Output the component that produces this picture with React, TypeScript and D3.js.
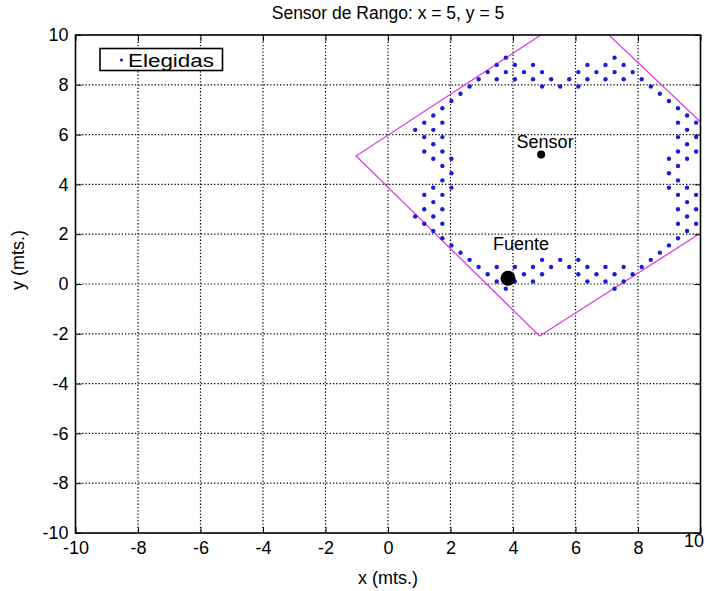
import React, { useEffect, useRef } from 'react';
import * as d3 from 'd3';

// ticks on both axes
const tickValues = [-10, -8, -6, -4, -2, 0, 2, 4, 6, 8, 10];

// "Elegidas" points, grouped by row (y) with the x values of each row
const rowY = [
  9.09, 8.8, 8.51, 8.22, 7.93, 7.64, 7.35, 7.06, 6.77, 6.48, 6.19, 5.9, 5.61, 5.32, 5.03, 4.74, 4.45,
  4.16, 3.87, 3.58, 3.29, 3.0, 2.71, 2.42, 2.13, 1.84, 1.55, 1.26, 0.97, 0.68, 0.39, 0.1, -0.19,
];
const rowX = [
  [3.77, 7.25],
  [3.48, 4.06, 4.64, 6.38, 6.96, 7.54],
  [3.19, 3.77, 4.35, 4.93, 6.09, 6.67, 7.25, 7.83],
  [2.9, 3.48, 4.06, 4.64, 5.22, 5.8, 6.38, 6.96, 7.54, 8.12],
  [2.61, 4.93, 5.51, 6.09, 8.41],
  [2.32, 8.7],
  [2.03, 8.99],
  [1.74, 9.28],
  [1.45, 9.57],
  [1.16, 1.74, 9.28, 9.86],
  [0.87, 1.45, 9.57],
  [1.16, 1.74, 9.28, 9.86],
  [1.45, 9.57],
  [1.16, 1.74, 9.28, 9.86],
  [1.45, 2.03, 8.99, 9.57],
  [1.74, 9.28],
  [2.03, 8.99],
  [1.74, 9.28],
  [1.45, 2.03, 8.99, 9.57],
  [1.16, 1.74, 9.28, 9.86],
  [1.45, 9.57],
  [1.16, 1.74, 9.28, 9.86],
  [0.87, 1.45, 9.57],
  [1.16, 1.74, 9.28, 9.86],
  [1.45, 9.57],
  [1.74, 9.28],
  [2.03, 8.99],
  [2.32, 8.7],
  [2.61, 4.93, 5.51, 6.09, 8.41],
  [2.9, 3.48, 4.06, 4.64, 5.22, 5.8, 6.38, 6.96, 7.54, 8.12],
  [3.19, 3.77, 4.35, 4.93, 6.09, 6.67, 7.25, 7.83],
  [3.48, 4.06, 4.64, 6.38, 6.96, 7.54],
  [3.77, 7.25],
];

// sensor range square (magenta)
const squareX = [-1.02, 4.85, 12.24, 6.18];
const squareY = [5.14, -2.09, 3.84, 11.06];

const sensorPos = [4.9, 5.2];
const fuentePos = [3.84, 0.23];

const font = "'Liberation Sans', Arial, sans-serif";

export default function App() {
  const svgRef = useRef(null);

  const width = 705;
  const height = 591;
  const plot = { left: 75.5, right: 700.5, top: 35, bottom: 533 };

  useEffect(() => {
    const svg = d3.select(svgRef.current);
    svg.selectAll('*').remove();

    const x = d3.scaleLinear().domain([-10, 10]).range([plot.left, plot.right]);
    const y = d3.scaleLinear().domain([-10, 10]).range([plot.bottom, plot.top]);

    svg.append('rect').attr('width', width).attr('height', height).attr('fill', '#fff');

    svg.append('clipPath').attr('id', 'plot-clip')
      .append('rect')
      .attr('x', plot.left).attr('y', plot.top)
      .attr('width', plot.right - plot.left).attr('height', plot.bottom - plot.top);

    // dotted grid
    const grid = svg.append('g')
      .attr('stroke', '#000')
      .attr('stroke-width', 1.2)
      .attr('stroke-dasharray', '1.3,2');
    grid.selectAll('line.v')
      .data(tickValues.slice(1, -1))
      .join('line')
      .attr('x1', d => x(d)).attr('x2', d => x(d))
      .attr('y1', plot.top).attr('y2', plot.bottom);
    grid.selectAll('line.h')
      .data(tickValues.slice(1, -1))
      .join('line')
      .attr('y1', d => y(d)).attr('y2', d => y(d))
      .attr('x1', plot.left).attr('x2', plot.right);

    // sensor range
    const square = squareX.map((v, i) => [v, squareY[i]]);
    svg.append('path')
      .attr('clip-path', 'url(#plot-clip)')
      .attr('d', d3.line().x(d => x(d[0])).y(d => y(d[1])).curve(d3.curveLinearClosed)(square))
      .attr('fill', 'none')
      .attr('stroke', '#e03ce8')
      .attr('stroke-width', 1.3);

    // chosen points
    const points = rowX.flatMap((xs, k) => xs.map(v => [v, rowY[k]]));
    svg.append('g')
      .attr('fill', '#1c1cd6')
      .selectAll('circle')
      .data(points)
      .join('circle')
      .attr('cx', d => x(d[0]))
      .attr('cy', d => y(d[1]))
      .attr('r', 2.2);

    // sensor + source
    svg.append('circle')
      .attr('cx', x(sensorPos[0])).attr('cy', y(sensorPos[1]))
      .attr('r', 4).attr('fill', '#000');
    svg.append('circle')
      .attr('cx', x(fuentePos[0])).attr('cy', y(fuentePos[1]))
      .attr('r', 7.5).attr('fill', '#000');

    svg.append('text')
      .attr('x', x(sensorPos[0]) + 4).attr('y', y(sensorPos[1]) - 7)
      .attr('text-anchor', 'middle')
      .style('font-family', font).style('font-size', '18px')
      .text('Sensor');
    svg.append('text')
      .attr('x', x(fuentePos[0]) + 13).attr('y', y(fuentePos[1]) - 28)
      .attr('text-anchor', 'middle')
      .style('font-family', font).style('font-size', '18px')
      .text('Fuente');

    // axes, ticks inside
    const styleAxis = g => {
      g.select('.domain').remove();
      g.selectAll('line').attr('stroke', '#000').attr('stroke-width', 1);
      g.selectAll('text').style('font-family', font).style('font-size', '18px').attr('fill', '#000');
    };
    const plain = d => String(d);
    svg.append('g')
      .attr('transform', `translate(0,${plot.bottom})`)
      .call(d3.axisBottom(x).tickValues(tickValues).tickSize(-6).tickPadding(8).tickFormat(plain))
      .call(styleAxis)
      .call(g => g.selectAll('text').filter(d => d === 10)
        .attr('text-anchor', 'end').attr('dx', 3).attr('dy', '0.35em'));
    svg.append('g')
      .attr('transform', `translate(0,${plot.top})`)
      .call(d3.axisTop(x).tickValues(tickValues).tickSize(-6).tickFormat(() => ''))
      .call(styleAxis);
    svg.append('g')
      .attr('transform', `translate(${plot.left},0)`)
      .call(d3.axisLeft(y).tickValues(tickValues).tickSize(-6).tickPadding(7).tickFormat(plain))
      .call(styleAxis);
    svg.append('g')
      .attr('transform', `translate(${plot.right},0)`)
      .call(d3.axisRight(y).tickValues(tickValues).tickSize(-6).tickFormat(() => ''))
      .call(styleAxis);

    svg.append('rect')
      .attr('x', plot.left).attr('y', plot.top)
      .attr('width', plot.right - plot.left).attr('height', plot.bottom - plot.top)
      .attr('fill', 'none').attr('stroke', '#000').attr('stroke-width', 1.6);

    // legend
    svg.append('rect')
      .attr('x', 100).attr('y', 48.5).attr('width', 122.5).attr('height', 22)
      .attr('fill', '#fff').attr('stroke', '#000').attr('stroke-width', 1.6);
    svg.append('circle').attr('cx', 121.5).attr('cy', 60).attr('r', 1.6).attr('fill', '#1c1cd6');
    svg.append('text')
      .attr('x', 128).attr('y', 66.5)
      .attr('textLength', 86).attr('lengthAdjust', 'spacingAndGlyphs')
      .style('font-family', font).style('font-size', '18px')
      .text('Elegidas');

    // titles
    svg.append('text')
      .attr('x', (plot.left + plot.right) / 2).attr('y', 19)
      .attr('text-anchor', 'middle')
      .style('font-family', font).style('font-size', '17.5px')
      .text('Sensor de Rango: x = 5, y = 5');
    svg.append('text')
      .attr('x', (plot.left + plot.right) / 2).attr('y', 584)
      .attr('text-anchor', 'middle')
      .style('font-family', font).style('font-size', '18px')
      .text('x (mts.)');
    svg.append('text')
      .attr('transform', 'translate(24,260) rotate(-90)')
      .attr('text-anchor', 'middle')
      .style('font-family', font).style('font-size', '18px')
      .text('y (mts.)');
  }, []);

  return (
    <svg
      ref={svgRef}
      width={width}
      height={height}
      style={{ position: 'absolute', left: 0, top: 0 }}
    />
  );
}
